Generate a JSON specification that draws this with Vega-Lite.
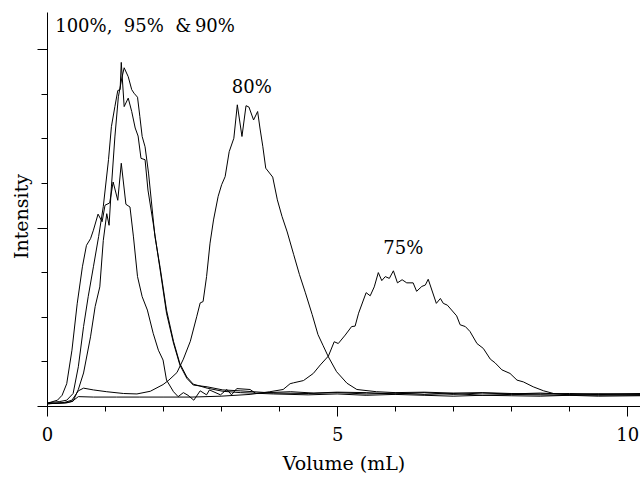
{
  "$schema": "https://vega.github.io/schema/vega-lite/v6.json",
  "width": 593,
  "height": 394,
  "autosize": {"type": "none"},
  "padding": {"left": 47, "top": 12, "right": 0, "bottom": 74},
  "background": "white",
  "config": {
    "view": {"stroke": null},
    "font": "DejaVu Serif",
    "axis": {
      "grid": false,
      "domainColor": "#000",
      "domainWidth": 1,
      "tickColor": "#000",
      "tickWidth": 1,
      "labelColor": "#000",
      "titleColor": "#000",
      "labelFont": "DejaVu Serif",
      "titleFont": "DejaVu Serif",
      "titleFontWeight": "normal",
      "labelFontSize": 18,
      "titleFontSize": 19
    }
  },
  "datasets": {
    "curves": [
      {"s": "A", "x": 0, "y": 0.07}, {"s": "A", "x": 0.22, "y": 0.1}, {"s": "A", "x": 0.34, "y": 0.13}, {"s": "A", "x": 0.45, "y": 0.28}, {"s": "A", "x": 0.54, "y": 0.88}, {"s": "A", "x": 0.63, "y": 1.78}, {"s": "A", "x": 0.71, "y": 2.45}, {"s": "A", "x": 0.8, "y": 3.12}, {"s": "A", "x": 0.89, "y": 3.8}, {"s": "A", "x": 0.97, "y": 4.47}, {"s": "A", "x": 1.06, "y": 5.52}, {"s": "A", "x": 1.11, "y": 6.26}, {"s": "A", "x": 1.17, "y": 6.71}, {"s": "A", "x": 1.22, "y": 7.07}, {"s": "A", "x": 1.26, "y": 7.09}, {"s": "A", "x": 1.28, "y": 7.7}, {"s": "A", "x": 1.33, "y": 6.71}, {"s": "A", "x": 1.4, "y": 6.9}, {"s": "A", "x": 1.46, "y": 6.6}, {"s": "A", "x": 1.52, "y": 6.23}, {"s": "A", "x": 1.57, "y": 6.05}, {"s": "A", "x": 1.62, "y": 5.55}, {"s": "A", "x": 1.69, "y": 5.52}, {"s": "A", "x": 1.74, "y": 4.84}, {"s": "A", "x": 1.83, "y": 4.1}, {"s": "A", "x": 1.95, "y": 3.05}, {"s": "A", "x": 2.06, "y": 2.08}, {"s": "A", "x": 2.18, "y": 1.41}, {"s": "A", "x": 2.29, "y": 0.92}, {"s": "A", "x": 2.41, "y": 0.62}, {"s": "A", "x": 2.52, "y": 0.47}, {"s": "A", "x": 2.76, "y": 0.43}, {"s": "A", "x": 3.03, "y": 0.36}, {"s": "A", "x": 3.33, "y": 0.34}, {"s": "A", "x": 3.9, "y": 0.29}, {"s": "A", "x": 4.5, "y": 0.28}, {"s": "A", "x": 5.0, "y": 0.3}, {"s": "A", "x": 5.5, "y": 0.27}, {"s": "A", "x": 6.0, "y": 0.29}, {"s": "A", "x": 6.5, "y": 0.26}, {"s": "A", "x": 7.0, "y": 0.28}, {"s": "A", "x": 7.5, "y": 0.24}, {"s": "A", "x": 8.0, "y": 0.26}, {"s": "A", "x": 8.5, "y": 0.25}, {"s": "A", "x": 9.0, "y": 0.24}, {"s": "A", "x": 9.5, "y": 0.26}, {"s": "A", "x": 10.22, "y": 0.24},
      {"s": "B", "x": 0, "y": 0.05}, {"s": "B", "x": 0.34, "y": 0.07}, {"s": "B", "x": 0.45, "y": 0.11}, {"s": "B", "x": 0.54, "y": 0.37}, {"s": "B", "x": 0.63, "y": 0.74}, {"s": "B", "x": 0.75, "y": 1.55}, {"s": "B", "x": 0.83, "y": 2.23}, {"s": "B", "x": 0.91, "y": 2.67}, {"s": "B", "x": 0.97, "y": 3.71}, {"s": "B", "x": 1.03, "y": 4.31}, {"s": "B", "x": 1.07, "y": 4.05}, {"s": "B", "x": 1.11, "y": 4.91}, {"s": "B", "x": 1.17, "y": 6.03}, {"s": "B", "x": 1.23, "y": 6.93}, {"s": "B", "x": 1.29, "y": 7.35}, {"s": "B", "x": 1.33, "y": 7.58}, {"s": "B", "x": 1.4, "y": 7.38}, {"s": "B", "x": 1.46, "y": 7.09}, {"s": "B", "x": 1.5, "y": 7.01}, {"s": "B", "x": 1.56, "y": 6.92}, {"s": "B", "x": 1.6, "y": 6.49}, {"s": "B", "x": 1.64, "y": 6.04}, {"s": "B", "x": 1.69, "y": 5.81}, {"s": "B", "x": 1.75, "y": 5.22}, {"s": "B", "x": 1.86, "y": 3.8}, {"s": "B", "x": 1.95, "y": 3.1}, {"s": "B", "x": 2.06, "y": 2.15}, {"s": "B", "x": 2.18, "y": 1.45}, {"s": "B", "x": 2.29, "y": 0.95}, {"s": "B", "x": 2.41, "y": 0.65}, {"s": "B", "x": 2.52, "y": 0.49}, {"s": "B", "x": 2.76, "y": 0.4}, {"s": "B", "x": 3.03, "y": 0.33}, {"s": "B", "x": 3.33, "y": 0.3}, {"s": "B", "x": 3.9, "y": 0.27}, {"s": "B", "x": 4.5, "y": 0.25}, {"s": "B", "x": 5.0, "y": 0.27}, {"s": "B", "x": 5.5, "y": 0.24}, {"s": "B", "x": 6.0, "y": 0.26}, {"s": "B", "x": 6.5, "y": 0.24}, {"s": "B", "x": 7.0, "y": 0.22}, {"s": "B", "x": 7.5, "y": 0.24}, {"s": "B", "x": 8.0, "y": 0.23}, {"s": "B", "x": 8.5, "y": 0.22}, {"s": "B", "x": 9.0, "y": 0.24}, {"s": "B", "x": 9.5, "y": 0.22}, {"s": "B", "x": 10.22, "y": 0.23},
      {"s": "C", "x": 0, "y": 0.06}, {"s": "C", "x": 0.18, "y": 0.13}, {"s": "C", "x": 0.26, "y": 0.24}, {"s": "C", "x": 0.34, "y": 0.5}, {"s": "C", "x": 0.43, "y": 1.25}, {"s": "C", "x": 0.52, "y": 2.29}, {"s": "C", "x": 0.61, "y": 3.12}, {"s": "C", "x": 0.68, "y": 3.6}, {"s": "C", "x": 0.75, "y": 3.75}, {"s": "C", "x": 0.8, "y": 3.94}, {"s": "C", "x": 0.88, "y": 4.3}, {"s": "C", "x": 0.95, "y": 4.13}, {"s": "C", "x": 1.0, "y": 4.5}, {"s": "C", "x": 1.08, "y": 4.55}, {"s": "C", "x": 1.14, "y": 5.02}, {"s": "C", "x": 1.22, "y": 4.61}, {"s": "C", "x": 1.28, "y": 5.44}, {"s": "C", "x": 1.36, "y": 4.52}, {"s": "C", "x": 1.43, "y": 4.46}, {"s": "C", "x": 1.49, "y": 3.79}, {"s": "C", "x": 1.56, "y": 2.9}, {"s": "C", "x": 1.64, "y": 2.45}, {"s": "C", "x": 1.73, "y": 2.15}, {"s": "C", "x": 1.83, "y": 1.63}, {"s": "C", "x": 1.92, "y": 1.25}, {"s": "C", "x": 2.0, "y": 1.03}, {"s": "C", "x": 2.06, "y": 0.58}, {"s": "C", "x": 2.18, "y": 0.32}, {"s": "C", "x": 2.26, "y": 0.21}, {"s": "C", "x": 2.35, "y": 0.3}, {"s": "C", "x": 2.43, "y": 0.24}, {"s": "C", "x": 2.53, "y": 0.13}, {"s": "C", "x": 2.64, "y": 0.34}, {"s": "C", "x": 2.75, "y": 0.25}, {"s": "C", "x": 2.8, "y": 0.36}, {"s": "C", "x": 2.99, "y": 0.25}, {"s": "C", "x": 3.1, "y": 0.37}, {"s": "C", "x": 3.18, "y": 0.25}, {"s": "C", "x": 3.27, "y": 0.39}, {"s": "C", "x": 3.5, "y": 0.37}, {"s": "C", "x": 3.6, "y": 0.28}, {"s": "C", "x": 3.8, "y": 0.3}, {"s": "C", "x": 4.2, "y": 0.32}, {"s": "C", "x": 4.6, "y": 0.29}, {"s": "C", "x": 5.0, "y": 0.31}, {"s": "C", "x": 5.5, "y": 0.3}, {"s": "C", "x": 6.0, "y": 0.27}, {"s": "C", "x": 6.5, "y": 0.3}, {"s": "C", "x": 7.0, "y": 0.26}, {"s": "C", "x": 7.5, "y": 0.29}, {"s": "C", "x": 8.0, "y": 0.27}, {"s": "C", "x": 8.5, "y": 0.29}, {"s": "C", "x": 9.0, "y": 0.26}, {"s": "C", "x": 9.5, "y": 0.27}, {"s": "C", "x": 10.22, "y": 0.26},
      {"s": "D", "x": 0, "y": 0.05}, {"s": "D", "x": 0.3, "y": 0.08}, {"s": "D", "x": 0.43, "y": 0.13}, {"s": "D", "x": 0.54, "y": 0.34}, {"s": "D", "x": 0.63, "y": 0.4}, {"s": "D", "x": 0.8, "y": 0.36}, {"s": "D", "x": 1.03, "y": 0.32}, {"s": "D", "x": 1.32, "y": 0.28}, {"s": "D", "x": 1.55, "y": 0.27}, {"s": "D", "x": 1.78, "y": 0.33}, {"s": "D", "x": 2.0, "y": 0.48}, {"s": "D", "x": 2.1, "y": 0.58}, {"s": "D", "x": 2.24, "y": 0.75}, {"s": "D", "x": 2.35, "y": 1.05}, {"s": "D", "x": 2.47, "y": 1.45}, {"s": "D", "x": 2.58, "y": 2.0}, {"s": "D", "x": 2.64, "y": 2.31}, {"s": "D", "x": 2.69, "y": 2.34}, {"s": "D", "x": 2.75, "y": 2.9}, {"s": "D", "x": 2.81, "y": 3.65}, {"s": "D", "x": 2.87, "y": 4.17}, {"s": "D", "x": 2.95, "y": 4.7}, {"s": "D", "x": 3.01, "y": 4.96}, {"s": "D", "x": 3.07, "y": 5.14}, {"s": "D", "x": 3.14, "y": 5.7}, {"s": "D", "x": 3.22, "y": 6.0}, {"s": "D", "x": 3.28, "y": 6.75}, {"s": "D", "x": 3.36, "y": 6.04}, {"s": "D", "x": 3.43, "y": 6.73}, {"s": "D", "x": 3.48, "y": 6.7}, {"s": "D", "x": 3.56, "y": 6.41}, {"s": "D", "x": 3.63, "y": 6.6}, {"s": "D", "x": 3.67, "y": 6.23}, {"s": "D", "x": 3.72, "y": 5.81}, {"s": "D", "x": 3.77, "y": 5.33}, {"s": "D", "x": 3.89, "y": 5.13}, {"s": "D", "x": 3.97, "y": 4.62}, {"s": "D", "x": 4.05, "y": 4.25}, {"s": "D", "x": 4.14, "y": 3.9}, {"s": "D", "x": 4.25, "y": 3.4}, {"s": "D", "x": 4.35, "y": 2.95}, {"s": "D", "x": 4.45, "y": 2.55}, {"s": "D", "x": 4.57, "y": 2.05}, {"s": "D", "x": 4.67, "y": 1.6}, {"s": "D", "x": 4.76, "y": 1.35}, {"s": "D", "x": 4.85, "y": 1.1}, {"s": "D", "x": 4.99, "y": 0.77}, {"s": "D", "x": 5.17, "y": 0.51}, {"s": "D", "x": 5.34, "y": 0.37}, {"s": "D", "x": 5.68, "y": 0.32}, {"s": "D", "x": 6.0, "y": 0.3}, {"s": "D", "x": 6.5, "y": 0.31}, {"s": "D", "x": 7.0, "y": 0.29}, {"s": "D", "x": 7.5, "y": 0.3}, {"s": "D", "x": 8.0, "y": 0.28}, {"s": "D", "x": 8.5, "y": 0.27}, {"s": "D", "x": 9.0, "y": 0.28}, {"s": "D", "x": 9.5, "y": 0.27}, {"s": "D", "x": 10.22, "y": 0.28},
      {"s": "E", "x": 0, "y": 0.05}, {"s": "E", "x": 0.3, "y": 0.07}, {"s": "E", "x": 0.43, "y": 0.1}, {"s": "E", "x": 0.54, "y": 0.21}, {"s": "E", "x": 0.8, "y": 0.2}, {"s": "E", "x": 1.2, "y": 0.2}, {"s": "E", "x": 1.6, "y": 0.2}, {"s": "E", "x": 2.0, "y": 0.2}, {"s": "E", "x": 2.5, "y": 0.2}, {"s": "E", "x": 3.0, "y": 0.22}, {"s": "E", "x": 3.5, "y": 0.26}, {"s": "E", "x": 3.84, "y": 0.32}, {"s": "E", "x": 4.07, "y": 0.37}, {"s": "E", "x": 4.19, "y": 0.5}, {"s": "E", "x": 4.25, "y": 0.52}, {"s": "E", "x": 4.42, "y": 0.57}, {"s": "E", "x": 4.59, "y": 0.73}, {"s": "E", "x": 4.71, "y": 0.92}, {"s": "E", "x": 4.85, "y": 1.12}, {"s": "E", "x": 4.95, "y": 1.44}, {"s": "E", "x": 5.02, "y": 1.4}, {"s": "E", "x": 5.14, "y": 1.59}, {"s": "E", "x": 5.25, "y": 1.78}, {"s": "E", "x": 5.31, "y": 1.79}, {"s": "E", "x": 5.37, "y": 2.08}, {"s": "E", "x": 5.5, "y": 2.54}, {"s": "E", "x": 5.57, "y": 2.47}, {"s": "E", "x": 5.64, "y": 2.67}, {"s": "E", "x": 5.71, "y": 2.99}, {"s": "E", "x": 5.77, "y": 2.81}, {"s": "E", "x": 5.83, "y": 2.9}, {"s": "E", "x": 5.9, "y": 2.86}, {"s": "E", "x": 5.97, "y": 3.03}, {"s": "E", "x": 6.04, "y": 2.76}, {"s": "E", "x": 6.12, "y": 2.83}, {"s": "E", "x": 6.2, "y": 2.76}, {"s": "E", "x": 6.31, "y": 2.76}, {"s": "E", "x": 6.37, "y": 2.57}, {"s": "E", "x": 6.46, "y": 2.68}, {"s": "E", "x": 6.52, "y": 2.71}, {"s": "E", "x": 6.57, "y": 2.84}, {"s": "E", "x": 6.71, "y": 2.3}, {"s": "E", "x": 6.78, "y": 2.41}, {"s": "E", "x": 6.83, "y": 2.3}, {"s": "E", "x": 6.9, "y": 2.26}, {"s": "E", "x": 7.06, "y": 2.02}, {"s": "E", "x": 7.12, "y": 1.82}, {"s": "E", "x": 7.21, "y": 1.78}, {"s": "E", "x": 7.29, "y": 1.67}, {"s": "E", "x": 7.41, "y": 1.4}, {"s": "E", "x": 7.52, "y": 1.29}, {"s": "E", "x": 7.64, "y": 1.05}, {"s": "E", "x": 7.72, "y": 0.97}, {"s": "E", "x": 7.84, "y": 0.81}, {"s": "E", "x": 7.98, "y": 0.73}, {"s": "E", "x": 8.1, "y": 0.58}, {"s": "E", "x": 8.21, "y": 0.54}, {"s": "E", "x": 8.38, "y": 0.43}, {"s": "E", "x": 8.56, "y": 0.34}, {"s": "E", "x": 8.73, "y": 0.28}, {"s": "E", "x": 9.0, "y": 0.25}, {"s": "E", "x": 9.5, "y": 0.24}, {"s": "E", "x": 10.22, "y": 0.25}
    ],
    "labels": [
      {"t": "100%,\u00a0\u00a095%\u00a0\u00a0&\u200990%", "x": 1.69, "y": 8.39},
      {"t": "80%", "x": 3.53, "y": 7.02},
      {"t": "75%", "x": 6.14, "y": 3.41}
    ]
  },
  "layer": [
    {
      "data": {"name": "curves"},
      "mark": {"type": "line", "stroke": "#000", "strokeWidth": 1},
      "encoding": {
        "x": {
          "field": "x",
          "type": "quantitative",
          "scale": {"domain": [0, 10.22], "nice": false, "zero": false},
          "axis": {
            "title": "Volume (mL)",
            "values": [0, 1, 2, 3, 4, 5, 6, 7, 8, 9, 10],
            "format": "d",
            "labelFlush": false,
            "labelOverlap": false,
            "labelExpr": "datum.value % 5 === 0 ? datum.label : ''",
            "tickSize": {"condition": {"test": "datum.value % 5 === 0", "value": 10}, "value": 5},
            "labelPadding": 10,
            "titlePadding": 10
          }
        },
        "y": {
          "field": "y",
          "type": "quantitative",
          "scale": {"domain": [0, 8.83], "nice": false, "zero": false},
          "axis": {
            "title": "Intensity",
            "values": [0, 1, 2, 3, 4, 5, 6, 7, 8],
            "labels": false,
            "tickSize": {"condition": {"test": "datum.value % 4 === 0", "value": 10}, "value": 6},
            "titlePadding": 5,
            "titleY": 204
          }
        },
        "detail": {"field": "s"}
      }
    },
    {
      "data": {"name": "labels"},
      "mark": {"type": "text", "font": "DejaVu Serif", "fontSize": 18, "align": "center", "baseline": "alphabetic", "color": "#000"},
      "encoding": {
        "x": {"field": "x", "type": "quantitative"},
        "y": {"field": "y", "type": "quantitative"},
        "text": {"field": "t"}
      }
    }
  ]
}
